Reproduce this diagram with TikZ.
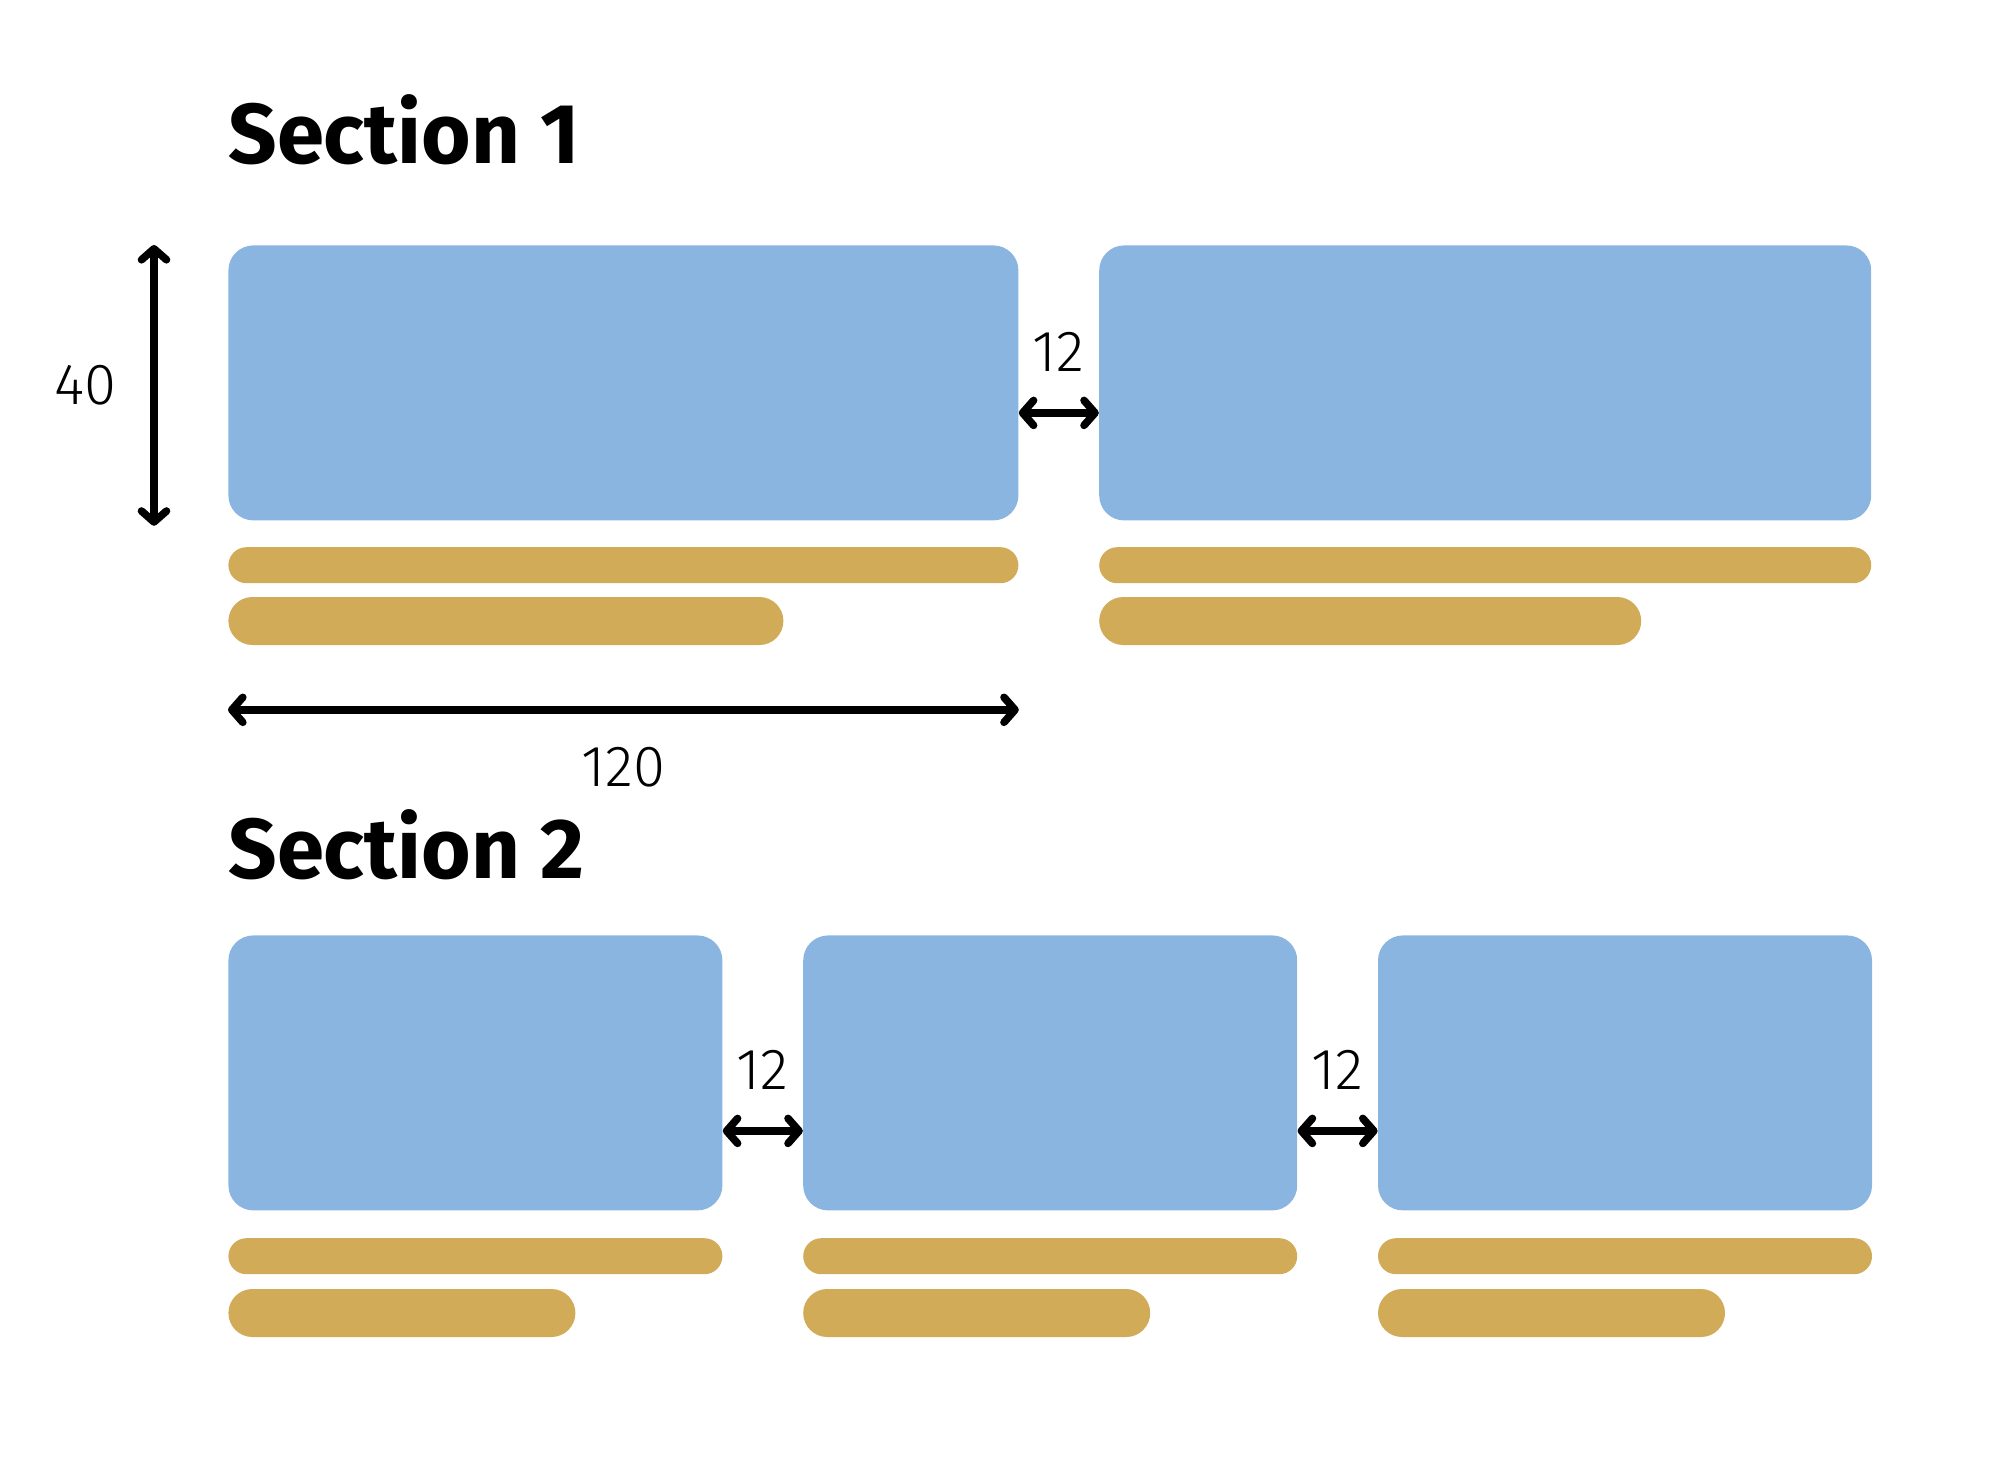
\documentclass[tikz,border=0pt]{standalone}
\usepackage{fontspec}
\setmainfont{Fira Sans}
\newfontfamily\dimfont{Fira Sans Light}
\usetikzlibrary{arrows.meta, positioning, calc}
\definecolor{cardblue}{HTML}{8AB5E0}
\definecolor{bargold}{HTML}{D1AB57}

\begin{document}
\begin{tikzpicture}[
        % styles
        x=0.5pt, y=-0.5pt,
        >={Straight Barb[length=5.5pt, width=12.5pt, round]},
        card/.style={
            fill=cardblue, rounded corners=12.5pt, inner sep=0pt,
            anchor=north west, minimum height=137.5pt
        },
        titlebar/.style={fill=bargold, rounded corners=9pt, inner sep=0pt, minimum height=18pt},
        textbar/.style={fill=bargold, rounded corners=12pt, inner sep=0pt, minimum height=24pt},
        heading/.style={font=\fontsize{42.5}{46}\selectfont\bfseries, anchor=base west, inner sep=0pt},
        dim/.style={<->, line width=3.8pt},
        dimlabel/.style={font=\dimfont\fontsize{29}{32}\selectfont, inner sep=0pt}
    ]
    \useasboundingbox (0,0) rectangle (2000,1483);

    % 1. Section 1
    \node (sec1) [heading] at (228,163) {Section 1};

    \node (s1card1) [card, minimum width=395pt] at (228,245) {};
    \node (s1card2) [card, minimum width=386pt, below right=0pt and 40pt of s1card1.north east] {};

    \node (s1bar1) [titlebar, minimum width=395pt, below right=13pt and 0pt of s1card1.south west] {};
    \node (s1line1) [textbar, minimum width=277.5pt, below right=6.5pt and 0pt of s1bar1.south west] {};
    \node (s1bar2) [titlebar, minimum width=386pt, below right=13pt and 0pt of s1card2.south west] {};
    \node (s1line2) [textbar, minimum width=271pt, below right=6.5pt and 0pt of s1bar2.south west] {};

    % measures
    \coordinate (h40top) at ([xshift=-37pt]s1card1.north west);
    \coordinate (h40bot) at ([xshift=-37pt, yshift=-2.5pt]s1card1.south west);
    \draw[dim] (h40top) -- node[dimlabel, left=17pt] (lbl40) {40} (h40bot);

    \draw[dim] ([yshift=-15pt]s1card1.east) -- node[dimlabel, above=19pt] (lbl12) {12} ([yshift=-15pt]s1card2.west);

    \coordinate (w120l) at ([yshift=-94.5pt]s1card1.south west);
    \coordinate (w120r) at ([yshift=-94.5pt]s1card1.south east);
    \draw[dim] (w120l) -- node[dimlabel, below=17pt] (lbl120) {120} (w120r);

    % 2. Section 2
    \node (sec2) [heading] at (228,878) {Section 2};

    \node (s2card1) [card, minimum width=247pt] at (228,935) {};
    \node (s2card2) [card, minimum width=247pt, below right=0pt and 40pt of s2card1.north east] {};
    \node (s2card3) [card, minimum width=247pt, below right=0pt and 40pt of s2card2.north east] {};

    \foreach \i in {1,2,3} {
        \node (s2bar\i) [titlebar, minimum width=247pt, below right=13.5pt and 0pt of s2card\i.south west] {};
        \node (s2line\i) [textbar, minimum width=173.5pt, below right=7pt and 0pt of s2bar\i.south west] {};
    }

    % gaps
    \draw[dim] ([yshift=-29pt]s2card1.east) -- node[dimlabel, above=19pt] (lbl12b) {12} ([yshift=-29pt]s2card2.west);
    \draw[dim] ([yshift=-29pt]s2card2.east) -- node[dimlabel, above=19pt] (lbl12c) {12} ([yshift=-29pt]s2card3.west);

\end{tikzpicture}
\end{document}
